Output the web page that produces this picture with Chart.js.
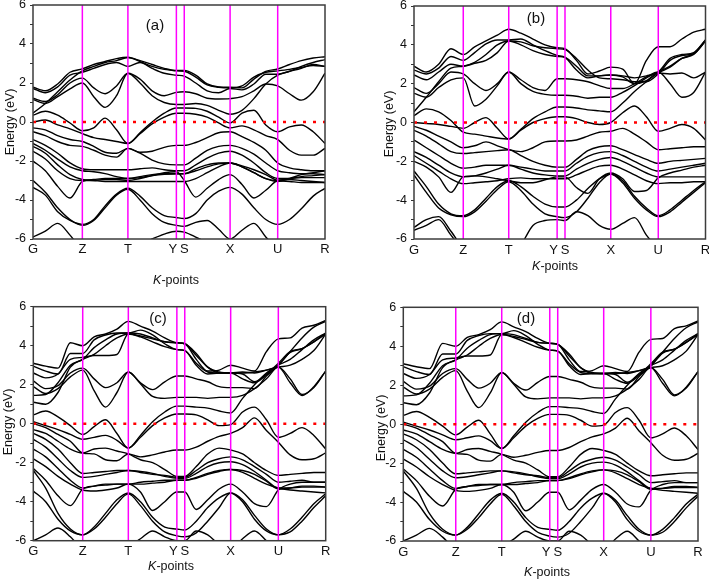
<!DOCTYPE html>
<html>
<head>
<meta charset="utf-8">
<script src="https://cdn.jsdelivr.net/npm/chart.js@4.4.1/dist/chart.umd.min.js"></script>
<style>
  body { margin: 0; background: #fff; width: 709px; height: 579px; position: relative; overflow: hidden; font-family: Arial, "Liberation Sans", sans-serif; }
  canvas { position: absolute; }
  .lbl { position: absolute; transform: translate(-50%, -50%); white-space: nowrap; color: #111; font-size: 12.5px; }
  .rot { transform: translate(-50%, -50%) rotate(-90deg); }
  .tag { font-size: 15px; }
</style>
</head>
<body>
<canvas id="pa"></canvas>
<canvas id="pb"></canvas>
<canvas id="pc"></canvas>
<canvas id="pd"></canvas>

<div class="lbl rot" style="left:9.5px;top:122px">Energy (eV)</div>
<div class="lbl rot" style="left:389px;top:124px">Energy (eV)</div>
<div class="lbl rot" style="left:7.5px;top:422px">Energy (eV)</div>
<div class="lbl rot" style="left:381px;top:428px">Energy (eV)</div>
<div class="lbl" style="left:176px;top:280px"><i>K</i>-points</div>
<div class="lbl" style="left:555px;top:266px"><i>K</i>-points</div>
<div class="lbl" style="left:171px;top:566px"><i>K</i>-points</div>
<div class="lbl" style="left:547px;top:572px"><i>K</i>-points</div>
<div class="lbl tag" style="left:155px;top:24px">(a)</div>
<div class="lbl tag" style="left:536px;top:17px">(b)</div>
<div class="lbl tag" style="left:158px;top:317px">(c)</div>
<div class="lbl tag" style="left:526px;top:317px">(d)</div>

<script>
// high symmetry points along the path (fraction of the path length)
const kLabels = ['G', 'Z', 'T', 'Y  ', 'S', 'X', 'U', 'R'];
const kposABC = [0, 0.169, 0.325, 0.491, 0.518, 0.675, 0.838, 1];
const kposD = [0, 0.178, 0.334, 0.497, 0.524, 0.68, 0.84, 1];
const segSteps = [4, 4, 4, 1, 4, 4, 4];
const energyTicks = [-6, -5, -4, -3, -2, -1, 0, 1, 2, 3, 4, 5, 6];

// band energies (eV) read at G, 3 pts, Z, 3 pts, T, 3 pts, Y, S, 3 pts, X, 3 pts, U, 3 pts, R
const bandsA = [
  [1.78,1.6,1.95,2.55,2.72, 2.95,3.1,3.25,3.32, 3.1,2.85,2.7,2.65, 2.65,2.4,1.95,1.8,1.78, 1.75,2.2,2.6,2.72, 2.95,3.15,3.28,3.35],
  [1.72,1.5,1.8,2.4,2.55, 2.75,2.95,3.05,2.85, 3.05,2.75,2.5,2.4, 2.35,2.0,1.6,1.5,1.72, 1.65,1.95,2.45,2.45, 2.6,2.75,2.95,2.85],
  [1.22,1.05,1.4,2.0,2.25, 1.75,1.45,1.85,2.5, 2.2,1.6,1.35,1.52, 1.55,1.45,1.22,1.18,1.2, 1.3,1.6,1.95,1.85, 1.45,1.12,1.55,2.5],
  [1.15,0.95,1.3,1.7,2.0, 1.3,0.75,1.35,2.5, 2.0,1.35,1.0,0.9, 0.9,0.95,0.85,0.6,0.4, 0.6,1.2,1.95,2.4, 2.6,2.85,3.05,3.2],
  [0.45,0.95,1.55,2.15,2.62, 2.85,3.05,3.15,3.3, 3.15,2.95,2.75,2.62, 2.6,2.3,1.9,1.78,1.75, 1.85,2.3,2.55,2.62, 2.7,2.8,2.9,2.85],
  [0.35,0.55,0.35,-0.05,-0.45, -0.3,0.2,-0.4,-1.1, -0.55,0.0,0.45,0.72, 0.72,0.7,0.55,0.25,-0.05, 0.45,0.6,-0.15,-0.5, -0.25,-0.15,-0.5,-1.1],
  [0.0,0.1,-0.15,-0.35,-0.6, -0.8,-0.9,-1.0,-1.1, -0.6,-0.1,0.25,0.45, 0.45,0.4,0.25,-0.05,-0.3, -0.2,-0.4,-0.7,-0.9, -1.45,-1.7,-1.7,-1.35],
  [-0.3,-0.4,-0.7,-0.9,-1.0, -1.25,-1.55,-1.6,-1.35, -1.55,-1.5,-1.3,-1.2, -1.2,-1.05,-0.8,-0.55,-0.5, -0.75,-1.05,-1.45,-2.1, -2.35,-2.45,-2.5,-2.5],
  [-0.5,-0.7,-1.0,-1.2,-1.25, -1.45,-1.7,-1.8,-1.35, -1.6,-1.95,-2.15,-2.2, -2.2,-1.85,-1.45,-1.25,-1.2, -1.35,-1.65,-2.1,-2.5, -2.6,-2.65,-2.65,-2.7],
  [-0.9,-1.2,-1.6,-2.1,-2.4, -2.45,-2.45,-2.45,-2.45, -2.4,-2.35,-2.45,-2.5, -2.5,-2.2,-1.85,-1.6,-1.5, -1.7,-2.1,-2.6,-2.9, -2.9,-2.85,-2.85,-2.85],
  [-1.1,-1.45,-1.9,-2.3,-2.5, -2.55,-2.65,-2.8,-2.9, -2.85,-2.75,-2.68,-2.65, -2.65,-2.5,-2.3,-2.15,-2.1, -2.25,-2.45,-2.7,-3.0, -3.05,-3.1,-3.1,-3.1],
  [-1.25,-1.6,-2.2,-2.7,-2.95, -3.0,-3.05,-3.05,-3.05, -3.05,-3.05,-3.05,-3.05, -3.05,-2.9,-2.6,-2.3,-2.1, -2.3,-2.6,-2.9,-3.05, -2.9,-2.7,-2.6,-2.5],
  [-1.5,-1.9,-2.5,-2.9,-3.0, -3.0,-2.95,-2.95,-3.0, -2.9,-2.75,-2.6,-2.55, -3.0,-3.85,-3.4,-2.95,-2.7, -3.2,-3.9,-3.5,-3.0, -2.95,-3.0,-3.05,-3.1],
  [-2.0,-2.5,-3.3,-3.9,-3.05, -2.95,-2.9,-2.9,-2.9, -2.8,-2.7,-2.65,-2.65, -2.65,-2.4,-2.2,-2.1,-2.1, -2.3,-2.6,-2.9,-3.0, -2.9,-2.8,-2.75,-2.7],
  [-3.35,-3.75,-4.6,-5.05,-5.25, -5.0,-4.3,-3.7,-3.4, -3.8,-4.4,-4.8,-4.9, -4.95,-4.7,-4.0,-3.55,-3.35, -3.7,-4.4,-5.0,-5.25, -5.0,-4.45,-3.8,-3.4],
  [-3.0,-3.6,-4.4,-5.0,-5.3, -5.05,-4.4,-3.75,-3.45, -4.0,-4.7,-5.15,-5.3, -5.35,-5.15,-5.05,-5.5,-6.0, -5.55,-5.2,-5.9,-6.5, -7,-7,-7,-7],
  [-5.9,-5.6,-5.2,-5.8,-6.6, -7,-7,-6.6,-6.3, -6.3,-6.0,-5.75,-5.6, -5.65,-5.9,-6.2,-6.6,-7, -7,-7,-7,-7, -7,-7,-7,-7]
];

const bandsB = [
  [2.9,2.6,3.0,3.8,3.5, 3.9,4.2,4.5,4.8, 4.6,4.3,4.0,3.85, 3.8,3.2,2.5,2.65,2.85, 2.75,2.0,3.2,3.9, 3.9,4.3,4.65,4.8],
  [2.7,2.5,2.8,3.4,3.2, 3.6,4.05,4.25,4.25, 4.3,4.0,3.7,3.45, 3.35,2.7,2.3,2.4,2.45, 2.4,2.3,2.4,2.6, 3.3,3.5,3.6,4.25],
  [2.45,2.2,2.6,3.0,2.9, 3.05,3.2,3.6,4.2, 4.15,3.95,3.85,3.8, 3.75,3.3,2.7,2.3,2.25, 2.2,2.1,2.1,2.5, 3.2,3.45,3.55,4.2],
  [1.8,1.5,2.0,2.6,2.5, 2.0,1.65,2.0,2.6, 2.2,1.8,1.65,2.25, 2.25,2.2,2.1,1.9,1.75, 1.75,2.0,2.35,2.6, 2.0,1.3,1.55,2.6],
  [1.5,1.3,1.8,2.2,2.3, 0.85,1.2,1.9,2.6, 2.0,1.6,1.45,1.4, 1.4,1.35,1.25,1.3,1.3, 1.55,1.9,2.3,2.6, 2.9,3.3,3.5,4.2],
  [0.55,1.3,2.1,2.8,2.9, 3.1,3.5,4.0,4.2, 4.0,3.7,3.5,3.4, 3.35,2.9,2.4,2.4,2.45, 2.35,2.0,2.15,2.55, 2.5,2.55,2.3,2.6],
  [0.35,0.7,0.55,0.1,-0.5, -0.6,-0.7,-0.8,-0.85, -0.4,0.0,0.2,0.3, 0.3,0.2,0.0,-0.1,0.0, 0.5,0.85,0.3,-0.45, -0.3,-0.1,-0.3,-0.9],
  [0.0,-0.05,-0.1,-0.2,-0.3, 0.0,0.25,-0.3,-0.85, -0.35,0.2,0.55,0.8, 0.8,0.75,0.65,0.6,0.55, 1.0,1.6,2.1,2.55, 2.85,3.3,3.55,4.25],
  [-0.2,-0.4,-0.7,-1.0,-1.3, -1.2,-1.0,-1.2,-1.4, -1.5,-1.3,-1.0,-0.95, -0.95,-0.9,-0.7,-0.5,-0.45, -0.3,-0.6,-1.0,-1.4, -1.35,-1.3,-1.25,-1.25],
  [-0.4,-0.7,-1.1,-1.5,-1.6, -1.55,-1.5,-1.45,-1.4, -1.7,-2.0,-2.2,-2.3, -2.3,-1.9,-1.45,-1.25,-1.2, -1.4,-1.65,-1.9,-2.1, -2.0,-1.95,-1.9,-1.85],
  [-0.9,-1.3,-1.7,-2.1,-2.35, -2.3,-2.2,-2.2,-2.2, -2.3,-2.4,-2.5,-2.5, -2.5,-2.1,-1.75,-1.55,-1.5, -1.7,-2.0,-2.3,-2.5, -2.4,-2.3,-2.2,-2.1],
  [-1.5,-1.8,-2.2,-2.6,-2.8, -2.75,-2.6,-2.4,-2.2, -2.4,-2.6,-2.7,-2.75, -2.75,-2.4,-2.1,-1.9,-1.8, -2.0,-2.3,-2.6,-2.8, -2.8,-2.8,-2.8,-2.8],
  [-1.7,-2.1,-2.5,-2.9,-3.15, -3.1,-3.05,-3.0,-2.9, -2.85,-2.9,-2.9,-2.9, -2.9,-2.7,-2.45,-2.25,-2.2, -2.4,-2.7,-3.0,-3.15, -3.1,-3.1,-3.05,-3.05],
  [-2.0,-2.3,-2.8,-3.6,-2.8, -2.75,-2.8,-2.9,-3.0, -3.1,-3.1,-2.95,-2.8, -2.8,-3.35,-3.65,-2.9,-2.6, -2.9,-3.55,-3.5,-2.85, -2.6,-2.45,-2.3,-2.2],
  [-2.5,-3.3,-4.2,-4.7,-4.8, -4.5,-3.9,-3.3,-3.0, -3.3,-3.8,-4.2,-4.35, -4.35,-4.0,-3.4,-2.9,-2.65, -3.0,-3.8,-4.4,-4.8, -4.5,-4.0,-3.5,-3.05],
  [-2.7,-3.6,-4.4,-4.75,-4.85, -4.6,-4.05,-3.45,-3.05, -3.5,-4.2,-4.7,-4.85, -4.9,-4.6,-3.9,-3.1,-2.65, -3.1,-3.9,-4.5,-4.85, -4.6,-4.1,-3.6,-3.1],
  [-5.4,-5.0,-4.85,-5.6,-6.5, -7,-7,-7,-6.8, -6.3,-5.3,-5.05,-5.0, -5.05,-4.6,-4.8,-5.3,-5.5, -5.2,-4.9,-5.8,-6.5, -7,-7,-7,-7],
  [-5.55,-5.3,-5.0,-5.8,-6.6, -7,-7,-7,-7, -7,-7,-7,-7, -7,-7,-7,-7,-7, -7,-7,-7,-7, -7,-7,-7,-7]
];

// panels (c) and (d) show the same bands
const bandsCD = [
  [3.1,2.95,2.85,4.15,4.0, 4.45,4.6,4.85,5.25, 5.0,4.75,4.4,4.15, 4.1,3.3,2.7,2.75,3.0, 2.85,2.7,3.7,4.35, 4.4,4.9,5.05,5.3],
  [2.95,2.7,2.55,3.6,3.6, 4.3,4.55,4.65,4.65, 4.8,4.55,4.1,3.8, 3.75,3.0,2.55,2.6,2.6, 2.55,2.15,2.55,3.1, 3.7,3.85,4.2,4.65],
  [2.6,2.35,2.55,3.3,3.4, 3.5,3.5,3.55,4.6, 4.5,4.35,4.2,4.15, 4.1,3.6,2.9,2.65,2.6, 2.65,2.6,2.75,2.9, 2.1,1.45,1.9,2.7],
  [2.2,1.8,1.95,2.6,2.85, 2.3,1.85,2.1,2.65, 2.1,1.75,2.15,2.45, 2.45,2.3,2.15,1.9,1.85, 1.85,1.8,2.45,3.0, 3.65,3.85,4.2,4.6],
  [1.9,1.55,1.8,2.4,2.75, 1.7,0.85,1.6,2.65, 2.05,1.4,1.3,1.35, 1.35,1.35,1.3,1.35,1.35, 1.45,1.8,2.3,2.9, 2.3,1.5,1.85,2.7],
  [1.45,1.5,2.1,3.0,3.3, 3.9,4.3,4.6,4.65, 4.6,4.4,4.2,4.15, 4.1,3.5,2.9,2.6,2.6, 2.3,2.1,2.5,3.0, 3.7,4.4,4.95,5.25],
  [1.1,1.0,1.6,2.9,3.3, 3.55,4.0,4.4,4.6, 4.45,4.2,3.95,3.8, 3.75,3.1,2.65,2.6,2.6, 2.6,2.65,2.75,2.9, 3.0,3.3,3.75,4.6],
  [0.45,0.65,0.35,-0.1,-0.55, -0.15,0.2,-0.5,-1.25, -0.6,0.1,0.6,0.9, 0.9,0.85,0.8,0.65,0.55, 1.3,2.0,2.6,3.0, 3.3,3.8,4.3,4.65],
  [0.1,-0.1,-0.3,-0.55,-0.8, -0.7,-0.6,-0.85,-1.25, -0.7,-0.1,0.3,0.5, 0.5,0.45,0.2,-0.1,-0.05, 0.6,0.85,0.2,-0.7, -0.5,-0.2,-0.6,-1.3],
  [0.0,-0.2,-0.55,-0.9,-1.5, -1.55,-1.85,-1.9,-1.55, -1.7,-1.6,-1.45,-1.35, -1.35,-1.2,-0.9,-0.65,-0.5, -0.2,0.3,-0.35,-0.95, -1.6,-1.85,-1.8,-1.5],
  [-0.3,-0.5,-0.9,-1.3,-1.5, -1.3,-1.25,-1.4,-1.55, -1.85,-2.0,-2.35,-2.7, -2.7,-2.2,-1.55,-1.25,-1.35, -1.55,-2.0,-2.4,-2.65, -2.6,-2.55,-2.5,-2.5],
  [-0.5,-0.8,-1.3,-2.0,-2.55, -2.5,-2.45,-2.4,-2.4, -2.5,-2.6,-2.65,-2.75, -2.75,-2.4,-2.0,-1.8,-1.7, -1.85,-2.2,-2.6,-3.0, -2.95,-2.9,-3.0,-3.0],
  [-0.8,-1.2,-1.8,-2.4,-2.75, -2.7,-2.6,-2.5,-2.4, -2.45,-2.55,-2.7,-2.8, -2.8,-2.55,-2.2,-2.0,-1.95, -2.1,-2.45,-2.9,-3.3, -3.3,-3.25,-3.25,-3.25],
  [-1.3,-1.7,-2.3,-2.9,-3.3, -3.2,-3.1,-3.1,-3.1, -3.0,-2.95,-2.9,-2.9, -2.9,-2.75,-2.55,-2.4,-2.35, -2.4,-2.6,-2.95,-3.35, -3.3,-3.2,-3.2,-3.25],
  [-1.8,-2.2,-2.7,-3.1,-3.4, -3.45,-3.4,-3.3,-3.1, -3.5,-4.45,-4.0,-3.5, -3.5,-4.4,-3.9,-3.35,-3.1, -3.5,-4.1,-4.25,-3.4, -3.1,-3.0,-3.0,-3.0],
  [-2.3,-2.9,-3.7,-4.2,-3.35, -3.2,-3.15,-3.1,-3.1, -3.1,-3.05,-3.0,-2.9, -2.9,-2.8,-2.6,-2.45,-2.35, -2.5,-2.8,-3.1,-3.3, -3.4,-3.45,-3.5,-3.55],
  [-2.4,-3.3,-4.6,-5.4,-5.7, -5.3,-4.6,-3.9,-3.55, -4.0,-4.8,-5.3,-5.4, -5.45,-5.0,-4.3,-3.8,-3.55, -3.9,-4.7,-5.4,-5.7, -5.4,-4.8,-4.1,-3.6],
  [-3.45,-4.0,-4.9,-5.5,-5.7, -5.4,-4.8,-4.1,-3.6, -4.2,-5.0,-5.55,-5.75, -5.8,-5.6,-5.0,-4.3,-3.55, -4.0,-4.9,-5.5,-5.7, -5.55,-5.0,-4.3,-3.7],
  [-6.0,-5.7,-5.35,-5.8,-6.5, -7,-7,-6.5,-6.3, -5.9,-5.5,-5.8,-6.0, -6.0,-5.5,-5.7,-6.2,-6.5, -5.9,-5.5,-6.0,-6.5, -7,-7,-7,-7]
];

// x position of every sample along the path
function kgrid(kpos) {
  const xs = [kpos[0]];
  segSteps.forEach((n, s) => {
    for (let j = 1; j <= n; j++) xs.push(kpos[s] + (kpos[s + 1] - kpos[s]) * j / n);
  });
  return xs;
}

const framePlugin = {
  id: 'frame',
  afterDatasetsDraw(chart) {
    const { ctx, chartArea: a } = chart;
    ctx.save();
    ctx.strokeStyle = '#3c3c3c';
    ctx.lineWidth = 1.5;
    ctx.strokeRect(a.left, a.top, a.right - a.left, a.bottom - a.top);
    ctx.restore();
  }
};

// canvas box + chart area for each panel
const panels = [
  { id: 'pa', left: 0, top: 0, w: 350, h: 292, area: [33, 5, 325, 239], xPad: 3, kpos: kposABC, bands: bandsA },
  { id: 'pb', left: 360, top: 0, w: 349, h: 292, area: [414, 6, 705.5, 239], xPad: 3.5, kpos: kposABC, bands: bandsB },
  { id: 'pc', left: 0, top: 292, w: 350, h: 287, area: [33.3, 306.7, 325.7, 540.7], xPad: 3, kpos: kposABC, bands: bandsCD },
  { id: 'pd', left: 360, top: 292, w: 349, h: 287, area: [403.3, 307.3, 698, 541], xPad: 4, kpos: kposD, bands: bandsCD }
];

const tickFont = { family: 'Arial, "Liberation Sans", sans-serif', size: 12.5 };

panels.forEach(p => {
  const canvas = document.getElementById(p.id);
  canvas.width = p.w;
  canvas.height = p.h;
  canvas.style.left = p.left + 'px';
  canvas.style.top = p.top + 'px';

  const [l, t, r, b] = p.area;
  const yAxisW = l - p.left;
  const xAxisH = p.top + p.h - b;
  const xs = kgrid(p.kpos);

  const datasets = [];
  datasets.push({
    data: [{ x: 0, y: 0 }, { x: 1, y: 0 }],
    borderColor: '#ff0000', borderWidth: 2.5, borderDash: [3, 7], pointRadius: 0
  });
  p.kpos.slice(1, -1).forEach(k => {
    datasets.push({
      data: [{ x: k, y: -6 }, { x: k, y: 6 }],
      borderColor: '#ff00ff', borderWidth: 1.5, pointRadius: 0
    });
  });
  p.bands.forEach(band => {
    datasets.push({
      data: band.map((e, i) => ({ x: xs[i], y: e })),
      borderColor: '#000', borderWidth: 1.4, pointRadius: 0,
      cubicInterpolationMode: 'monotone'
    });
  });

  new Chart(canvas, {
    type: 'line',
    data: { datasets },
    options: {
      responsive: false,
      animation: false,
      devicePixelRatio: 1,
      events: [],
      layout: { padding: { top: t - p.top, right: p.left + p.w - r, left: 0, bottom: 0 } },
      plugins: { legend: { display: false }, tooltip: { enabled: false } },
      scales: {
        x: {
          type: 'linear', min: 0, max: 1,
          afterBuildTicks: ax => { ax.ticks = p.kpos.map(v => ({ value: v })); },
          afterFit: ax => { ax.height = xAxisH; ax.paddingLeft = 0; ax.paddingRight = 0; },
          ticks: {
            autoSkip: false, maxRotation: 0, padding: p.xPad, color: '#111',
            font: { family: tickFont.family, size: 13 },
            callback: (v, i) => kLabels[i]
          },
          grid: { display: false, drawTicks: false },
          border: { display: false }
        },
        y: {
          min: -6, max: 6,
          afterBuildTicks: ax => { ax.ticks = energyTicks.map(v => ({ value: v })); },
          afterFit: ax => { ax.width = yAxisW; ax.paddingTop = 0; ax.paddingBottom = 0; },
          ticks: {
            autoSkip: false, padding: 4, color: '#111', font: tickFont,
            callback: v => (v % 2 === 0 ? String(v) : '')
          },
          grid: { display: true, drawOnChartArea: false, drawTicks: true, tickLength: 3, color: '#333', lineWidth: 1 },
          border: { display: false }
        }
      }
    },
    plugins: [framePlugin]
  });
});
</script>
</body>
</html>
